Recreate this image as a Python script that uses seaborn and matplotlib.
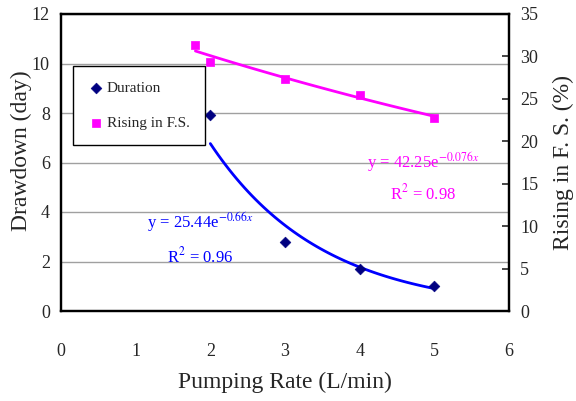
import numpy as np
import pandas as pd
import matplotlib
matplotlib.use("Agg")
import matplotlib.pyplot as plt
import seaborn as sns

# data
rate_duration = [2, 3, 4, 5]
duration = [7.9, 2.8, 1.7, 1.0]
rate_rising = [1.8, 2, 3, 4, 5]
rising = [31.4, 29.3, 27.3, 25.5, 22.8]

eq_duration = ["y = 25.44e$^{-0.66x}$", "R$^{2}$ = 0.96"]
eq_rising = ["y = 42.25e$^{-0.076x}$", "R$^{2}$ = 0.98"]

sns.set_style("white")
plt.rcParams['font.family'] = ['Liberation Serif', 'DejaVu Serif']
plt.rcParams['mathtext.fontset'] = 'stix'

df_d = pd.DataFrame({'rate': rate_duration, 'value': duration})
df_r = pd.DataFrame({'rate': rate_rising, 'value': rising})


# exponential trend line fitted to the points
def exp_fit(x, y, n=60):
    b, ln_a = np.polyfit(x, np.log(y), 1)
    xs = np.linspace(min(x), max(x), n)
    return pd.DataFrame({'rate': xs, 'value': np.exp(ln_a) * np.exp(b * xs)})


fig, ax = plt.subplots(figsize=(5.76, 4.01), dpi=100)
fig.subplots_adjust(left=61/576, right=509/576, top=1-14/401, bottom=1-311/401)
ax2 = ax.twinx()

ax.set_xlim(0, 6)
ax.set_ylim(0, 12)
ax2.set_ylim(0, 35)
ax.set_xticks(range(0, 7))
ax.set_yticks(range(0, 13, 2))
ax2.set_yticks(range(0, 36, 5))

ax.grid(True, axis='y', color='#a0a0a0', linewidth=1)
ax.set_axisbelow(True)

blue = '#0000FF'
navy = '#000080'
magenta = '#FF00FF'

sns.lineplot(data=exp_fit(rate_duration, duration), x='rate', y='value', ax=ax,
             color=blue, linewidth=2, legend=False)
sns.scatterplot(data=df_d, x='rate', y='value', ax=ax, marker='D', s=30,
                color=navy, edgecolor=navy, label='Duration', zorder=5)

sns.lineplot(data=exp_fit(rate_rising, rising), x='rate', y='value', ax=ax2,
             color=magenta, linewidth=2, legend=False)
sns.scatterplot(data=df_r, x='rate', y='value', ax=ax2, marker='s', s=40,
                color=magenta, edgecolor=magenta, label='Rising in F.S.', zorder=5)

# trend line equations
ax.text(1.86, 3.6, eq_duration[0], color=blue, fontsize=12, ha='center', va='center')
ax.text(1.86, 2.2, eq_duration[1], color=blue, fontsize=12, ha='center', va='center')
ax.text(4.85, 6.0, eq_rising[0], color=magenta, fontsize=12, ha='center', va='center')
ax.text(4.85, 4.75, eq_rising[1], color=magenta, fontsize=12, ha='center', va='center')

# axes styling
for a in (ax, ax2):
    for s in a.spines.values():
        s.set_color('black')
        s.set_linewidth(1.6)

ax.tick_params(axis='x', direction='in', length=5, width=1.2, pad=23, labelsize=13)
ax.tick_params(axis='y', length=0, pad=8, labelsize=13)
ax2.tick_params(axis='y', direction='in', length=5, width=1.2, pad=8, labelsize=13)

ax.set_xlabel('Pumping Rate (L/min)', fontsize=17)
ax.set_ylabel('Drawdown (day)', fontsize=17)
ax2.set_ylabel('Rising in F. S. (%)', fontsize=17)
ax.xaxis.set_label_coords(0.5, -0.205)
ax.yaxis.set_label_coords(-0.065, 0.54)
ax2.yaxis.set_label_coords(1.098, 0.5)

# combined legend
h1, l1 = ax.get_legend_handles_labels()
h2, l2 = ax2.get_legend_handles_labels()
if ax2.get_legend():
    ax2.get_legend().remove()
leg = ax.legend(h1 + h2, l1 + l2, loc='upper left', bbox_to_anchor=(0.027, 0.825),
                borderaxespad=0, fontsize=11, frameon=True, fancybox=False,
                edgecolor='black', framealpha=1, borderpad=1.0, labelspacing=1.4,
                handletextpad=0.2, handlelength=1.0)
leg.get_frame().set_linewidth(1.0)
leg.set_zorder(10)

fig.savefig('out.png', dpi=100)
